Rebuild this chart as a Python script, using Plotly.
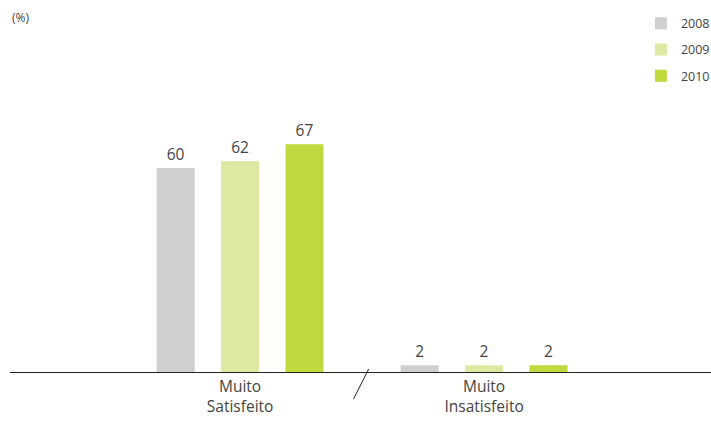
import plotly.graph_objects as go

categories = ["Muito<br>Satisfeito", "Muito<br>Insatisfeito"]
years = ["2008", "2009", "2010"]
values_2008 = [60, 2]
values_2009 = [62, 2]
values_2010 = [67, 2]
series = [values_2008, values_2009, values_2010]
colors = ["#cfcfcd", "#dde9a1", "#c0d93e"]
offsets = [-0.342, -0.078, 0.186]

x_pos = list(range(len(categories)))

fig = go.Figure()
for i, (yr, vals) in enumerate(zip(years, series)):
    fig.add_trace(go.Bar(
        x=x_pos, y=vals, name=yr,
        marker=dict(color=colors[i], line=dict(width=0)),
        width=0.156, offset=offsets[i],
        text=[str(v) for v in vals], textposition="outside",
        textfont=dict(size=15.5, color="#444444"),
        cliponaxis=False,
        legendgroup=yr,
    ))

fig.update_layout(
    width=711, height=441,
    margin=dict(l=10, r=0, t=100, b=69, autoexpand=False),
    paper_bgcolor="white", plot_bgcolor="white",
    font=dict(family="Open Sans", color="#444444"),
    barmode="overlay",
    showlegend=True,
    legend=dict(x=0.9, y=1.336, xanchor="left", yanchor="top",
                font=dict(size=12.5, color="#444444"),
                tracegroupgap=7, bgcolor="rgba(0,0,0,0)"),
    xaxis=dict(range=[-0.943, 1.930], tickvals=x_pos, ticktext=categories,
               showgrid=False, zeroline=False, showline=True,
               linecolor="#222222", linewidth=1, ticks="",
               tickfont=dict(size=15.5, color="#444444")),
    yaxis=dict(range=[0, 80], visible=False, showgrid=False, zeroline=False),
    annotations=[dict(text="(%)", xref="paper", yref="paper", x=0.0, y=1.305,
                      xanchor="left", yanchor="middle", showarrow=False,
                      font=dict(size=12, color="#444444"))],
    shapes=[dict(type="line", xref="x", yref="paper", x0=0.465, y0=-0.099,
                 x1=0.527, y1=0.011, line=dict(color="#222222", width=1))],
)

fig.write_html("out.html", config={"displayModeBar": False},
               post_script="document.body.style.margin='0';document.body.style.overflow='hidden';")
